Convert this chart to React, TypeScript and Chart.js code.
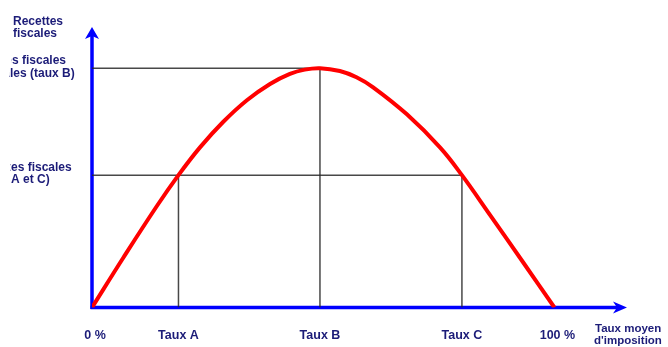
import React, { useEffect, useRef } from "react";
import { Chart, registerables } from "chart.js";

Chart.register(...registerables);

// Laffer curve: tax rate (%) -> revenue (peak = 100)
const curveRates = [0, 6.8, 14.0, 18.7, 23.4, 28.4, 33.5, 38.5, 42.8, 46.0, 49.3, 53.6, 57.2, 60.8, 68.1, 75.3, 80.0, 86.1, 93.3, 100];
const curveRevenue = [0, 20.9, 42.3, 55.3, 67.0, 77.6, 86.6, 93.4, 97.6, 99.4, 100, 98.8, 96.2, 92.0, 80.7, 66.8, 55.3, 38.6, 18.7, 0];

const tauxNames = ["Taux A", "Taux B", "Taux C"];
const tauxRates = [18.7, 49.3, 80.0];
const tauxRevenue = [55.3, 100, 55.3];

const xTickLabels = ["0 %", "Taux A", "Taux B", "Taux C", "100 %"];
const xTickValues = [0, 18.7, 49.3, 80.0, 100];
const xAxisTitle = ["Taux moyen", "d'imposition"];
const yAxisTitle = ["Recettes", "fiscales"];
const yLabelMax = ["Recettes fiscales", "maximales (taux B)"];
const yLabelAC = ["Recettes fiscales", "(taux A et C)"];

const X_MAX = 115.7;
const Y_MAX = 117.2;

const TEXT_COLOR = "#1c1c78";
const AXIS_COLOR = "#0000ff";
const FAMILY = "'Liberation Sans', Arial, sans-serif";
const FONT = "bold 11.5px " + FAMILY;
const LEFT_FONT = "bold 12px " + FAMILY;
const TICK_FONT = "bold 12.5px " + FAMILY;

function clippedLine(ctx: any, text: string, hiddenPrefix: string, visibleX: number, y: number) {
  ctx.save();
  ctx.beginPath();
  ctx.rect(visibleX - 0.5, 0, 100, 347);
  ctx.clip();
  ctx.fillText(text, visibleX - ctx.measureText(hiddenPrefix).width, y);
  ctx.restore();
}

const decorPlugin = {
  id: "decor",
  beforeDatasetsDraw(chart: any) {
    const { ctx, scales } = chart;
    const xs = scales.x;
    const ys = scales.y;
    const x0 = xs.getPixelForValue(0);
    const y0 = ys.getPixelForValue(0);
    const xEnd = xs.getPixelForValue(X_MAX);
    const yEnd = ys.getPixelForValue(Y_MAX);
    ctx.save();
    ctx.strokeStyle = AXIS_COLOR;
    ctx.fillStyle = AXIS_COLOR;
    ctx.lineWidth = 3.5;
    ctx.beginPath();
    ctx.moveTo(x0, y0 + 1.5);
    ctx.lineTo(x0, yEnd + 8);
    ctx.stroke();
    ctx.beginPath();
    ctx.moveTo(x0 - 1.5, y0);
    ctx.lineTo(xEnd - 8, y0);
    ctx.stroke();
    ctx.beginPath();
    ctx.moveTo(x0, yEnd);
    ctx.lineTo(x0 + 7, yEnd + 12);
    ctx.lineTo(x0, yEnd + 9);
    ctx.lineTo(x0 - 7, yEnd + 12);
    ctx.closePath();
    ctx.fill();
    ctx.beginPath();
    ctx.moveTo(xEnd, y0);
    ctx.lineTo(xEnd - 14, y0 - 6);
    ctx.lineTo(xEnd - 10, y0);
    ctx.lineTo(xEnd - 14, y0 + 6);
    ctx.closePath();
    ctx.fill();
    ctx.restore();
  },
  afterDraw(chart: any) {
    const { ctx, scales } = chart;
    const xs = scales.x;
    const ys = scales.y;
    ctx.save();
    ctx.fillStyle = TEXT_COLOR;
    ctx.textBaseline = "alphabetic";
    ctx.font = TICK_FONT;
    ctx.textAlign = "center";
    xTickLabels.forEach((lab, i) => {
      const px = xs.getPixelForValue(xTickValues[i]);
      ctx.fillText(lab, px + (i === 0 ? 3 : i === 4 ? 3 : 0), 339);
    });
    ctx.font = FONT;
    ctx.textAlign = "left";
    ctx.fillText(xAxisTitle[0], 595, 332);
    ctx.fillText(xAxisTitle[1], 594, 344);
    ctx.font = LEFT_FONT;
    ctx.fillText(yAxisTitle[0], 13, 25);
    ctx.fillText(yAxisTitle[1], 13, 37);
    // left labels, cut off at the left edge as in the source image
    const yMax = ys.getPixelForValue(tauxRevenue[1]);
    clippedLine(ctx, yLabelMax[0], "Recette", 12, yMax - 4);
    clippedLine(ctx, yLabelMax[1], "maxima", 10, yMax + 9);
    const yAC = ys.getPixelForValue(tauxRevenue[0]);
    clippedLine(ctx, yLabelAC[0], "Recett", 11, yAC - 4);
    clippedLine(ctx, yLabelAC[1], "(taux ", 11, yAC + 8);
    ctx.restore();
  },
};

export default function App() {
  const canvasRef = useRef<HTMLCanvasElement | null>(null);

  useEffect(() => {
    if (!canvasRef.current) return;
    const refColor = "rgba(40,40,40,0.85)";
    const refLines: any[] = [];
    refLines.push({
      data: [{ x: 0, y: tauxRevenue[1] }, { x: tauxRates[1], y: tauxRevenue[1] }],
    });
    refLines.push({
      data: [{ x: 0, y: tauxRevenue[0] }, { x: tauxRates[2], y: tauxRevenue[2] }],
    });
    tauxRates.forEach((r, i) => {
      refLines.push({
        data: [{ x: r, y: tauxRevenue[i] }, { x: r, y: 0 }],
        label: tauxNames[i],
      });
    });
    const chart = new Chart(canvasRef.current, {
      type: "line",
      data: {
        datasets: [
          {
            label: "Recettes fiscales",
            data: curveRates.map((x, i) => ({ x, y: curveRevenue[i] })),
            borderColor: "#ff0000",
            borderWidth: 4,
            pointRadius: 0,
            tension: 0.4,
            fill: false,
            order: 0,
          },
          ...refLines.map((d) => ({
            data: d.data,
            label: d.label || "ref",
            borderColor: refColor,
            borderWidth: 1.5,
            pointRadius: 0,
            tension: 0,
            fill: false,
            order: 1,
          })),
        ],
      },
      options: {
        responsive: false,
        animation: false,
        layout: { padding: { left: 92, right: 668 - 627, top: 27, bottom: 347 - 307.5 } },
        plugins: {
          legend: { display: false },
          tooltip: { enabled: false },
          title: { display: false },
        },
        scales: {
          x: { type: "linear", min: 0, max: X_MAX, display: false },
          y: { type: "linear", min: 0, max: Y_MAX, display: false },
        },
      },
      plugins: [decorPlugin],
    } as any);
    return () => chart.destroy();
  }, []);

  return (
    <div style={{ position: "fixed", left: 0, top: 0, width: 668, height: 347, background: "#fff" }}>
      <canvas ref={canvasRef} width={668} height={347} style={{ display: "block" }} />
    </div>
  );
}
